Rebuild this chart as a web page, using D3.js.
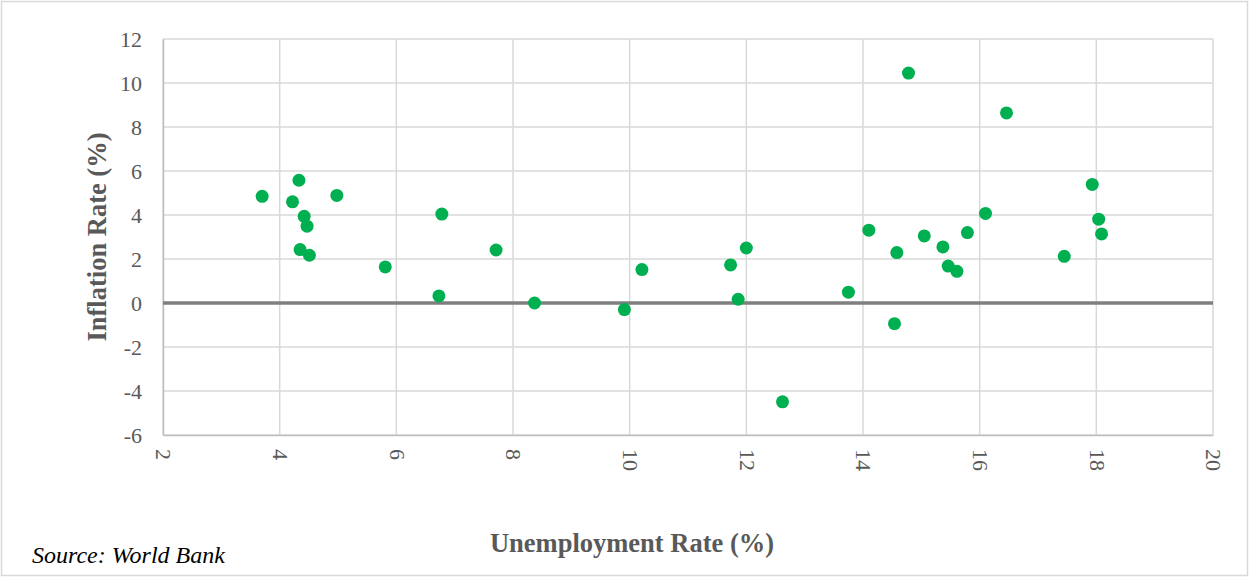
<!DOCTYPE html>
<html>
<head>
<meta charset="utf-8">
<script src="https://cdn.jsdelivr.net/npm/d3@7"></script>
<style>
  body { margin: 0; background: #fff; }
  svg { display: block; font-family: "Liberation Serif", serif; }
</style>
</head>
<body>
<svg id="chart" width="1250" height="577"></svg>
<script>
// unemployment rate (%) and inflation rate (%), one pair per point
const unemployment = [
  3.70, 4.33, 4.22, 4.98, 4.42, 4.47, 4.35, 4.51, 5.81,
  6.78, 6.73, 7.71, 8.37, 9.91, 10.21, 11.73, 12.00, 11.86, 12.62,
  13.75, 14.10, 14.54, 14.58, 14.78, 15.05, 15.37, 15.46, 15.61, 15.79,
  16.10, 16.46, 17.45, 17.93, 18.04, 18.09
];
const inflation = [
  4.85, 5.58, 4.60, 4.89, 3.94, 3.49, 2.43, 2.17, 1.64,
  4.04, 0.32, 2.41, 0.00, -0.30, 1.52, 1.73, 2.50, 0.17, -4.49,
  0.49, 3.31, -0.94, 2.29, 10.45, 3.05, 2.55, 1.68, 1.44, 3.20,
  4.07, 8.64, 2.12, 5.39, 3.81, 3.14
];
const xTicks = [2, 4, 6, 8, 10, 12, 14, 16, 18, 20];
const yTicks = [-6, -4, -2, 0, 2, 4, 6, 8, 10, 12];

const points = unemployment.map((u, i) => ({ u: u, inf: inflation[i] }));

const svg = d3.select("#chart");
const FONT = "'Liberation Serif', serif";

// outer chart border
svg.append("rect")
  .attr("x", 1.5).attr("y", 1.5)
  .attr("width", 1246).attr("height", 574)
  .attr("fill", "none")
  .attr("stroke", "#d9d9d9")
  .attr("stroke-width", 1.5);

const plot = { left: 163, right: 1213, top: 39, bottom: 435 };

const x = d3.scaleLinear().domain([2, 20]).range([plot.left, plot.right]);
const y = d3.scaleLinear().domain([-6, 12]).range([plot.bottom, plot.top]);

const grid = svg.append("g");
grid.selectAll("line.v")
  .data(xTicks)
  .enter()
  .append("line")
  .attr("x1", (d) => x(d)).attr("x2", (d) => x(d))
  .attr("y1", plot.top).attr("y2", plot.bottom)
  .attr("stroke", "#d9d9d9")
  .attr("stroke-width", 1.5);
grid.selectAll("line.h")
  .data(yTicks)
  .enter()
  .append("line")
  .attr("x1", plot.left).attr("x2", plot.right)
  .attr("y1", (d) => y(d)).attr("y2", (d) => y(d))
  .attr("stroke", "#d9d9d9")
  .attr("stroke-width", 1.5);

// y axis labels (plain hyphen for negatives, like the original)
const yAxis = svg.append("g")
  .attr("transform", `translate(${plot.left},0)`)
  .call(d3.axisLeft(y).tickValues(yTicks).tickSize(0).tickPadding(21)
    .tickFormat((d) => String(d)));
yAxis.select(".domain").attr("stroke", "#bfbfbf").attr("stroke-width", 1.5);
yAxis.selectAll("text")
  .attr("font-size", "22px")
  .attr("font-family", FONT)
  .attr("fill", "#595959");

// x axis labels, rotated
const xAxis = svg.append("g")
  .attr("transform", `translate(0,${plot.bottom})`)
  .call(d3.axisBottom(x).tickValues(xTicks).tickSize(0).tickFormat((d) => String(d)));
xAxis.select(".domain").attr("stroke", "#bfbfbf").attr("stroke-width", 1.5);
xAxis.selectAll("text")
  .attr("font-size", "22px")
  .attr("font-family", FONT)
  .attr("fill", "#595959")
  .attr("text-anchor", "start")
  .attr("transform", "rotate(90)")
  .attr("x", 14)
  .attr("y", 0)
  .attr("dy", "0.33em");

// zero line
svg.append("line")
  .attr("x1", plot.left).attr("x2", plot.right)
  .attr("y1", y(0)).attr("y2", y(0))
  .attr("stroke", "#7f7f7f")
  .attr("stroke-width", 3.5);

// points
svg.append("g")
  .selectAll("circle")
  .data(points)
  .enter()
  .append("circle")
  .attr("cx", (d) => x(d.u))
  .attr("cy", (d) => y(d.inf))
  .attr("r", 6.5)
  .attr("fill", "#00b050");

// axis titles
svg.append("text")
  .attr("transform", `translate(106,${(plot.top + plot.bottom) / 2}) rotate(-90)`)
  .attr("text-anchor", "middle")
  .attr("font-family", FONT)
  .attr("font-size", "26.5px")
  .attr("font-weight", "bold")
  .attr("fill", "#595959")
  .text("Inflation Rate (%)");

svg.append("text")
  .attr("x", 632)
  .attr("y", 552)
  .attr("text-anchor", "middle")
  .attr("font-family", FONT)
  .attr("font-size", "26.5px")
  .attr("font-weight", "bold")
  .attr("fill", "#595959")
  .text("Unemployment Rate (%)");

svg.append("text")
  .attr("x", 32)
  .attr("y", 563)
  .attr("font-family", FONT)
  .attr("font-size", "24px")
  .attr("font-style", "italic")
  .attr("fill", "#000")
  .text("Source: World Bank");
</script>
</body>
</html>
